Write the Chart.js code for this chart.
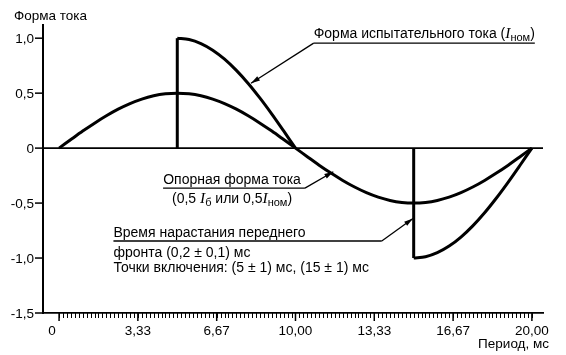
<!DOCTYPE html>
<html><head><meta charset="utf-8">
<script src="https://cdn.jsdelivr.net/npm/chart.js@4"></script>
<style>html,body{margin:0;padding:0;background:#fff}#wrap{width:566px;height:355px;position:relative}</style>
</head><body><div id="wrap"><canvas id="c"></canvas></div>
<script>
// ---- data ----
const periodMs = [0,0.5,1,1.5,2,2.5,3,3.5,4,4.5,5,5.5,6,6.5,7,7.5,8,8.5,9,9.5,10,
  10.5,11,11.5,12,12.5,13,13.5,14,14.5,15,15.5,16,16.5,17,17.5,18,18.5,19,19.5,20];
const referenceCurrent = [0,0.078,0.155,0.227,0.294,0.354,0.405,0.446,0.476,0.494,0.5,
  0.494,0.476,0.446,0.405,0.354,0.294,0.227,0.155,0.078,0,
  -0.078,-0.155,-0.227,-0.294,-0.354,-0.405,-0.446,-0.476,-0.494,-0.5,
  -0.494,-0.476,-0.446,-0.405,-0.354,-0.294,-0.227,-0.155,-0.078,0];
const testCurrent = [null,null,null,null,null,null,null,null,null,null,
  1.0,0.988,0.951,0.891,0.809,0.707,0.588,0.454,0.309,0.156,0,
  null,null,null,null,null,null,null,null,null,
  -1.0,-0.988,-0.951,-0.891,-0.809,-0.707,-0.588,-0.454,-0.309,-0.156,0];
const switchOnTimes = [5, 15];
const switchOnPeaks = [1.0, -1.0];
const xTickValues = [0, 3.333, 6.667, 10, 13.333, 16.667, 20];
const xTickLabels = ['0','3,33','6,67','10,00','13,33','16,67','20,00'];
const yTickValues = [1.0, 0.5, 0, -0.5, -1.0, -1.5];
const yTickLabels = ['1,0','0,5','0','-0,5','-1,0','-1,5'];
const minorTicksPerMajor = 20;
const yAxisTitle = 'Форма тока';
const xAxisTitle = 'Период, мс';

const FONT = '"Liberation Sans", Arial, sans-serif';
const SERIF = '"Liberation Serif", "Times New Roman", serif';

const datasets = [
  {data: periodMs.map((t,i)=>({x:t,y:referenceCurrent[i]}))},
  {data: periodMs.map((t,i)=>({x:t,y:testCurrent[i]})), spanGaps:false}
];
switchOnTimes.forEach((t,i)=>datasets.push({data:[{x:t,y:0},{x:t,y:switchOnPeaks[i]}], tension:0}));
datasets.forEach(d=>Object.assign(d,{borderColor:'#000',borderWidth:3,pointRadius:0,fill:false,
  tension: d.tension===0?0:0.3, borderCapStyle:'butt', borderJoinStyle:'miter'}));

function richWidth(ctx, parts){
  let w=0; parts.forEach(p=>{ctx.font=p.font; w+=ctx.measureText(p.t).width;}); return w;
}
function richText(ctx, x, y, parts, align){
  let w = richWidth(ctx, parts);
  let cx = align==='center' ? x - w/2 : x;
  parts.forEach(p=>{ctx.font=p.font; ctx.fillText(p.t, cx, y + (p.dy||0)); cx += ctx.measureText(p.t).width;});
  return w;
}
const N = s=>({t:s,font:'14px '+FONT});
const I = ()=>({t:'I',font:'italic 15.5px '+SERIF});
const S = s=>({t:s,font:'11px '+FONT,dy:3});

function arrow(ctx, x0,y0,x1,y1){
  ctx.beginPath(); ctx.moveTo(x0,y0); ctx.lineTo(x1,y1); ctx.stroke();
  const a=Math.atan2(y1-y0,x1-x0), L=9, W=2.6;
  ctx.beginPath(); ctx.moveTo(x1,y1);
  ctx.lineTo(x1-L*Math.cos(a)+W*Math.sin(a), y1-L*Math.sin(a)-W*Math.cos(a));
  ctx.lineTo(x1-L*Math.cos(a)-W*Math.sin(a), y1-L*Math.sin(a)+W*Math.cos(a));
  ctx.closePath(); ctx.fill();
}

const deco = {
  id:'deco',
  beforeDatasetsDraw(chart){
    const {ctx, chartArea:a, scales:{x,y}} = chart;
    ctx.save(); ctx.strokeStyle='#000'; ctx.lineWidth=1.6;
    const y0=y.getPixelForValue(0);
    ctx.beginPath(); ctx.moveTo(a.left,y0); ctx.lineTo(a.right,y0); ctx.stroke();
    ctx.restore();
  },
  afterDraw(chart){
    const {ctx, chartArea:a, scales:{x,y}} = chart;
    ctx.save(); ctx.fillStyle='#000'; ctx.strokeStyle='#000';
    // y ticks
    ctx.lineWidth=1.5; ctx.font='13.5px '+FONT; ctx.textAlign='right'; ctx.textBaseline='middle';
    yTickValues.forEach((v,i)=>{const py=y.getPixelForValue(v);
      ctx.beginPath(); ctx.moveTo(a.left-8,py); ctx.lineTo(a.left,py); ctx.stroke();
      ctx.fillText(yTickLabels[i], a.left-9, py+1);});
    // x minor + major ticks
    const step = (xTickValues[1]-xTickValues[0])/minorTicksPerMajor;
    const nMinor = Math.round((xTickValues[xTickValues.length-1]-xTickValues[0])/step);
    ctx.lineWidth=1;
    for(let k=0;k<=nMinor;k++){const px=Math.round(x.getPixelForValue(xTickValues[0]+k*step))+0.5;
      ctx.beginPath(); ctx.moveTo(px,a.bottom); ctx.lineTo(px,a.bottom+5); ctx.stroke();}
    ctx.lineWidth=1.5; ctx.textAlign='center'; ctx.textBaseline='middle';
    xTickValues.forEach((v,i)=>{const px=x.getPixelForValue(v);
      ctx.beginPath(); ctx.moveTo(px,a.bottom); ctx.lineTo(px,a.bottom+8); ctx.stroke();
      ctx.fillText(xTickLabels[i], px + (i===0?-7:0), a.bottom+18);});
    // axis titles
    ctx.textAlign='left'; ctx.fillText(yAxisTitle, 14, 16);
    ctx.textAlign='right'; ctx.fillText(xAxisTitle, a.right+6, 344);
    // annotations
    ctx.textAlign='left'; ctx.textBaseline='alphabetic'; ctx.lineWidth=1.3;
    // 1: test current
    let ux=x.getPixelForValue(10.77), uy=y.getPixelForValue(0.955);
    let w=richText(ctx, ux, uy-5, [N('Форма испытательного тока ('),I(),S('ном'),N(')')]);
    ctx.beginPath(); ctx.moveTo(ux,uy); ctx.lineTo(ux+w,uy); ctx.stroke();
    arrow(ctx, ux,uy, x.getPixelForValue(8.12), y.getPixelForValue(0.59));
    // 2: reference current
    let u2a=x.getPixelForValue(4.4), u2b=x.getPixelForValue(10.4), u2y=y.getPixelForValue(-0.364);
    const cx2=(u2a+u2b)/2-2;
    richText(ctx, cx2, u2y-4, [N('Опорная форма тока')], 'center');
    richText(ctx, cx2, u2y+15, [N('(0,5 '),I(),S('б'),N(' или 0,5'),I(),S('ном'),N(')')], 'center');
    ctx.beginPath(); ctx.moveTo(u2a,u2y); ctx.lineTo(u2b,u2y); ctx.stroke();
    arrow(ctx, u2b,u2y, x.getPixelForValue(11.6), y.getPixelForValue(-0.215));
    // 3: rise time
    let u3a=x.getPixelForValue(2.3), u3b=x.getPixelForValue(13.65), u3y=y.getPixelForValue(-0.845);
    richText(ctx, u3a, u3y-4, [N('Время нарастания переднего')]);
    richText(ctx, u3a, u3y+16, [N('фронта (0,2 ± 0,1) мс')]);
    richText(ctx, u3a, u3y+31, [N('Точки включения: (5 ± 1) мс, (15 ± 1) мс')]);
    ctx.beginPath(); ctx.moveTo(u3a,u3y); ctx.lineTo(u3b,u3y); ctx.stroke();
    arrow(ctx, u3b,u3y, x.getPixelForValue(14.97), y.getPixelForValue(-0.64));
    ctx.restore();
  }
};

new Chart(document.getElementById('c'), {
  type:'line',
  data:{datasets},
  options:{
    responsive:true, maintainAspectRatio:false, animation:false,
    layout:{padding:{left:0,top:25,right:23,bottom:0}},
    plugins:{legend:{display:false}, tooltip:{enabled:false}},
    scales:{
      x:{type:'linear', min:-0.68, max:20.47,
        grid:{display:false}, ticks:{display:false},
        border:{display:true,color:'#000',width:1.8},
        afterFit(s){s.height=42;}},
      y:{type:'linear', min:-1.5, max:1.12,
        grid:{display:false}, ticks:{display:false},
        border:{display:true,color:'#000',width:2},
        afterFit(s){s.width=43;}}
    }
  },
  plugins:[deco]
});
</script></body></html>
